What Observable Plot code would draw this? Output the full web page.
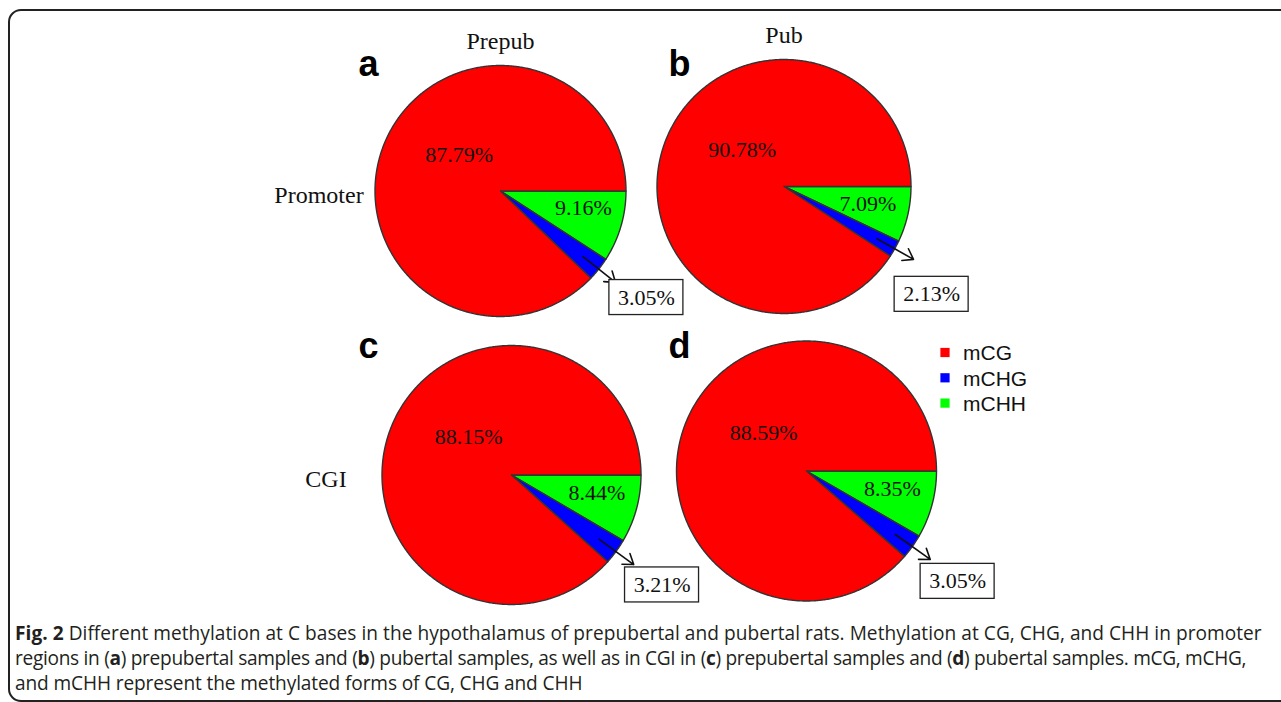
<!DOCTYPE html>
<html><head><meta charset="utf-8">
<script src="https://cdn.jsdelivr.net/npm/d3@7"></script>
<script src="https://cdn.jsdelivr.net/npm/@observablehq/plot@0.6"></script>
<style>
html,body{margin:0;padding:0;background:#fff;overflow:hidden;width:1281px;height:702px;}
#frame{position:absolute;left:8px;top:9px;width:1400px;height:693px;border:2px solid #222;border-radius:13px;box-sizing:border-box;}
#chart{position:absolute;left:0;top:0;}
#caption{position:absolute;left:15px;top:620.5px;font-family:"Open Sans";font-size:19.1px;line-height:25px;color:#231f20;white-space:nowrap;}
#caption b{font-weight:700;}
#caption .l1{display:block;letter-spacing:0.04px;}
#caption .l2{display:block;letter-spacing:-0.3px;}
#caption .l3{display:block;letter-spacing:-0.12px;}
</style></head><body>
<div id="frame"></div>
<div id="chart"></div>
<div id="caption"><span class="l1"><b>Fig. 2</b> Different methylation at C bases in the hypothalamus of prepubertal and pubertal rats. Methylation at CG, CHG, and CHH in promoter</span><span class="l2">regions in (<b>a</b>) prepubertal samples and (<b>b</b>) pubertal samples, as well as in CGI in (<b>c</b>) prepubertal samples and (<b>d</b>) pubertal samples. mCG, mCHG,</span><span class="l3">and mCHH represent the methylated forms of CG, CHG and CHH</span></div>
<script>
// ---- data ----
const categories = ["mCG", "mCHG", "mCHH"];
const categoryColors = ["#ff0000", "#0000ff", "#00ff00"];
const panels = ["a", "b", "c", "d"];
const samples = ["Prepub", "Pub", "Prepub", "Pub"];
const regions = ["Promoter", "Promoter", "CGI", "CGI"];
const mCG = [87.79, 90.78, 88.15, 88.59];
const mCHG = [3.05, 2.13, 3.21, 3.05];
const mCHH = [9.16, 7.09, 8.44, 8.35];
const sliceOrder = ["mCHH", "mCHG", "mCG"]; // clockwise from 3 o'clock

// ---- layout (pixels) ----
const W = 1281, H = 612;
const pieLayout = [
  {cx: 500, cy: 190.5, r: 125.5},
  {cx: 783.5, cy: 186, r: 127},
  {cx: 511, cy: 474.5, r: 129.5},
  {cx: 806, cy: 470.5, r: 130}
];
const letterGrid = {x: [358, 668], baseline: [75, 357]};
const legendPos = {x: 944.5, y: 352, step: 25.3, textDx: 18};

const values = {mCG, mCHG, mCHH};
const pie = d3.pie().sort(null).value(d => d.value)
  .startAngle(Math.PI / 2).endAngle(Math.PI / 2 + 2 * Math.PI);

const wedgePoints = [];
const wedges = [];
panels.forEach((p, i) => {
  const L = pieLayout[i];
  const arcs = pie(sliceOrder.map(c => ({category: c, value: values[c][i]})));
  arcs.forEach(a => {
    const key = p + "-" + a.data.category;
    const steps = Math.max(2, Math.ceil((a.endAngle - a.startAngle) / (Math.PI / 360)));
    const pts = [[L.cx, L.cy]];
    for (let s = 0; s <= steps; s++) {
      const ang = a.startAngle + (a.endAngle - a.startAngle) * s / steps;
      pts.push([L.cx + L.r * Math.sin(ang), L.cy - L.r * Math.cos(ang)]);
    }
    pts.push([L.cx, L.cy]);
    pts.forEach(([x, y]) => wedgePoints.push({key, category: a.data.category, x, y}));
    wedges.push({panel: p, index: i, category: a.data.category, value: a.data.value,
      mid: (a.startAngle + a.endAngle) / 2, L});
  });
});
const fmt = v => v.toFixed(2) + "%";
const redW = wedges.filter(d => d.category === "mCG");
const greenW = wedges.filter(d => d.category === "mCHH");
const blueW = wedges.filter(d => d.category === "mCHG");
const polar = (d, k) => [d.L.cx + k * d.L.r * Math.sin(d.mid), d.L.cy - k * d.L.r * Math.cos(d.mid)];
const boxC = d => [d.L.cx + 1.1625 * d.L.r, d.L.cy + 0.849 * d.L.r];
const serif = "Liberation Serif, Times New Roman, serif";
const sans = "Liberation Sans, Arial, sans-serif";
const topRow = [0, 1], leftCol = [0, 2];

const chart = Plot.plot({
  width: W, height: H,
  marginTop: 0, marginRight: 0, marginBottom: 0, marginLeft: 0,
  x: {domain: [0, W], range: [0, W], axis: null},
  y: {domain: [0, H], range: [0, H], axis: null},
  color: {domain: categories, range: categoryColors},
  style: {background: "transparent", overflow: "visible"},
  marks: [
    Plot.line(wedgePoints, {x: "x", y: "y", z: "key", fill: "category", stroke: "#333", strokeWidth: 1.4, strokeLinejoin: "round"}),
    Plot.text(redW, {x: d => d.L.cx - 0.33 * d.L.r, y: d => d.L.cy - 0.29 * d.L.r, text: d => fmt(d.value),
      fontFamily: serif, fontSize: 22, fill: "#111", textAnchor: "middle", lineAnchor: "middle"}),
    Plot.text(greenW, {x: d => d.L.cx + 0.66 * d.L.r, y: d => d.L.cy + 0.135 * d.L.r, text: d => fmt(d.value),
      fontFamily: serif, fontSize: 22, fill: "#111", textAnchor: "middle", lineAnchor: "middle"}),
    Plot.arrow(blueW, {x1: d => polar(d, 0.84)[0], y1: d => polar(d, 0.84)[1], x2: d => polar(d, 1.17)[0], y2: d => polar(d, 1.17)[1],
      stroke: "#111", strokeWidth: 1.6, headLength: 11, headAngle: 70}),
    Plot.rect(blueW, {x1: d => boxC(d)[0] - 37, x2: d => boxC(d)[0] + 37, y1: d => boxC(d)[1] - 17.5, y2: d => boxC(d)[1] + 17.5,
      fill: "white", stroke: "#222", strokeWidth: 1.3}),
    Plot.text(blueW, {x: d => boxC(d)[0], y: d => boxC(d)[1], text: d => fmt(d.value),
      fontFamily: serif, fontSize: 22, fill: "#111", textAnchor: "middle", lineAnchor: "middle"}),
    // column titles
    Plot.text(topRow, {x: i => pieLayout[i].cx, y: i => pieLayout[i].cy - pieLayout[i].r - 17, text: i => samples[i],
      fontFamily: serif, fontSize: 24, fill: "#111", textAnchor: "middle", lineAnchor: "bottom"}),
    // row labels
    Plot.text(leftCol, {x: i => pieLayout[i].cx - pieLayout[i].r - 56, y: i => pieLayout[i].cy + 12, text: i => regions[i],
      fontFamily: serif, fontSize: 24, fill: "#111", textAnchor: "middle", lineAnchor: "bottom"}),
    // panel letters
    Plot.text(panels, {x: (d, i) => letterGrid.x[i % 2], y: (d, i) => letterGrid.baseline[Math.floor(i / 2)], text: d => d,
      fontFamily: sans, fontWeight: "bold", fontSize: 36, fill: "#000", textAnchor: "start", lineAnchor: "bottom"}),
    // legend
    Plot.dot(categories, {x: legendPos.x, y: (d, i) => legendPos.y + i * legendPos.step, fill: d => d, symbol: "square", r: 5.2, stroke: null}),
    Plot.text(categories, {x: legendPos.x + legendPos.textDx, y: (d, i) => legendPos.y + i * legendPos.step, text: d => d,
      fontFamily: sans, fontSize: 21, fill: "#111", textAnchor: "start", lineAnchor: "middle", dy: 1})
  ]
});
document.getElementById("chart").appendChild(chart);
</script>
</body></html>
